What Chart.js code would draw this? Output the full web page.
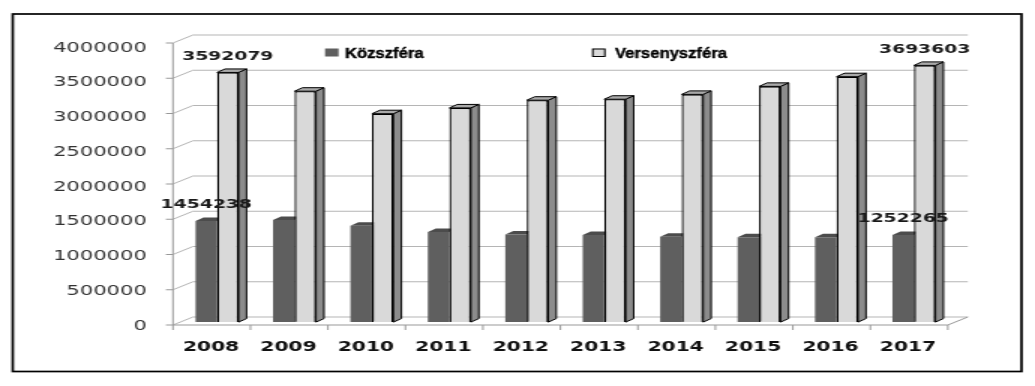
<!DOCTYPE html>
<html><head><meta charset="utf-8">
<script src="https://cdn.jsdelivr.net/npm/chart.js@4"></script>
<style>
html,body{margin:0;padding:0;background:#fff;overflow:hidden;}
#wrap{width:690px;height:386px;transform:scaleX(1.5);transform-origin:0 0;}
canvas{display:block;}
</style></head><body>
<div id="wrap"><canvas id="c" width="690" height="386"></canvas></div>
<script>
// ---- data ----
const years = ['2008','2009','2010','2011','2012','2013','2014','2015','2016','2017'];
const seriesNames = ['Közszféra', 'Versenyszféra'];
const kozszfera = [1454238, 1467700, 1386900, 1296700, 1261700, 1252300, 1229400, 1221300, 1222000, 1252265];
const versenyszfera = [3592079, 3322300, 2998300, 3081700, 3192900, 3206900, 3276400, 3391800, 3530900, 3693603];
const yTicks = [0, 500000, 1000000, 1500000, 2000000, 2500000, 3000000, 3500000, 4000000];
const labelledIdx = [0, 9];

// ---- style ----
const DARK = '#5f5f5f', LIGHT = '#d9d9d9';
const DEPTH_DX = 5.33, DEPTH_DY = -3.5;   // bar depth
const WALL_DX = 13.33, WALL_DY = -8;      // wall depth

const frame = {
  id: 'frame',
  beforeDraw(chart) {
    const ctx = chart.ctx;
    ctx.save();
    ctx.fillStyle = '#fff';
    ctx.fillRect(0, 0, chart.width, chart.height);
    ctx.strokeStyle = '#000';
    ctx.lineWidth = 1.7;
    ctx.strokeRect(8.5, 14, 672.5, 357.5);
    ctx.restore();
  }
};

const threeD = {
  id: 'threeD',
  beforeDatasetsDraw(chart) {
    const ctx = chart.ctx, ca = chart.chartArea, ys = chart.scales.y;
    const max = ys.max;
    const frontY = v => ys.getPixelForValue(v) + 2.9 - 4 * v / max;
    const fl = ca.left - 3.6, fr = ca.right - 3.2;
    ctx.save();
    ctx.lineWidth = 1;
    yTicks.forEach(v => {
      const y = frontY(v);
      ctx.strokeStyle = '#b5b5b5';
      ctx.beginPath();
      ctx.moveTo(fl, y);
      ctx.lineTo(fl + WALL_DX, y + WALL_DY);
      ctx.lineTo(fr + WALL_DX, y + WALL_DY);
      ctx.stroke();
      ctx.strokeStyle = '#999';
      ctx.beginPath();
      ctx.moveTo(fl - 4.7, y);
      ctx.lineTo(fl, y);
      ctx.stroke();
    });
    ctx.strokeStyle = '#999';
    ctx.beginPath();
    ctx.moveTo(fl, frontY(max));
    ctx.lineTo(fl, frontY(0));
    ctx.lineTo(fr, frontY(0));
    ctx.lineTo(fr + WALL_DX, frontY(0) + WALL_DY);
    ctx.stroke();
    const n = years.length;
    for (let i = 0; i <= n; i++) {
      const x = fl + i * (fr - fl) / n;
      ctx.beginPath();
      ctx.moveTo(x, frontY(0));
      ctx.lineTo(x, frontY(0) + 5);
      ctx.stroke();
    }
    chart.data.datasets.forEach((ds, di) => {
      const meta = chart.getDatasetMeta(di);
      const outlined = di === 1;
      meta.data.forEach(bar => {
        const p = bar.getProps(['x', 'y', 'base', 'width'], true);
        const l = p.x - p.width / 2, r = p.x + p.width / 2;
        ctx.lineWidth = 1;
        ctx.strokeStyle = '#000';
        ctx.fillStyle = outlined ? '#8c8c8c' : '#4f4f4f';
        ctx.beginPath();
        ctx.moveTo(r, p.y);
        ctx.lineTo(r + DEPTH_DX, p.y + DEPTH_DY);
        ctx.lineTo(r + DEPTH_DX, p.base + DEPTH_DY);
        ctx.lineTo(r, p.base);
        ctx.closePath();
        ctx.fill();
        if (outlined) ctx.stroke();
        ctx.fillStyle = outlined ? '#a9a9a9' : '#4c4c4c';
        ctx.beginPath();
        ctx.moveTo(l, p.y);
        ctx.lineTo(l + DEPTH_DX, p.y + DEPTH_DY);
        ctx.lineTo(r + DEPTH_DX, p.y + DEPTH_DY);
        ctx.lineTo(r, p.y);
        ctx.closePath();
        ctx.fill();
        if (outlined) ctx.stroke();
      });
    });
    ctx.restore();
  },
  afterDatasetsDraw(chart) {
    const ctx = chart.ctx;
    ctx.save();
    // value labels
    ctx.font = 'bold 12.5px "DejaVu Sans"';
    ctx.fillStyle = '#1a1a1a';
    ctx.textAlign = 'center';
    ctx.textBaseline = 'middle';
    chart.data.datasets.forEach((ds, di) => {
      const meta = chart.getDatasetMeta(di);
      labelledIdx.forEach(i => {
        const bar = meta.data[i];
        ctx.fillText(String(ds.data[i]), bar.x, bar.y - 16);
      });
    });
    // legend (condensed bold text)
    const legendX = [216.7, 394.7];
    const textX = [230, 410];
    chart.data.datasets.forEach((ds, di) => {
      ctx.fillStyle = ds.backgroundColor;
      ctx.fillRect(legendX[di], 48.5, 9, 8);
      if (di === 1) {
        ctx.strokeStyle = '#000';
        ctx.lineWidth = 1;
        ctx.strokeRect(legendX[di] + 0.5, 49, 8, 7.5);
      }
      ctx.save();
      ctx.translate(textX[di], 53.5);
      ctx.scale(0.74, 1);
      ctx.font = 'bold 15px "Liberation Sans", Arial, sans-serif';
      ctx.textAlign = 'left';
      ctx.textBaseline = 'middle';
      ctx.fillStyle = '#000';
      ctx.fillText(ds.label, 0, 0);
      ctx.lineWidth = 0.4;
      ctx.strokeStyle = '#000';
      ctx.strokeText(ds.label, 0, 0);
      ctx.restore();
    });
    ctx.restore();
  }
};

new Chart(document.getElementById('c'), {
  type: 'bar',
  data: {
    labels: years,
    datasets: [
      { label: seriesNames[0], data: kozszfera, backgroundColor: DARK, borderWidth: 0,
        categoryPercentage: 0.555, barPercentage: 1.0 },
      { label: seriesNames[1], data: versenyszfera, backgroundColor: LIGHT, borderColor: '#000', borderWidth: 1.3,
        categoryPercentage: 0.555, barPercentage: 1.0 }
    ]
  },
  options: {
    responsive: false,
    animation: false,
    events: [],
    layout: { padding: { left: 10, right: 54.9, top: 44.1, bottom: 33.9 } },
    plugins: { legend: { display: false }, tooltip: { enabled: false } },
    scales: {
      x: {
        grid: { display: false, drawTicks: false },
        border: { display: false },
        ticks: {
          font: { family: 'DejaVu Sans', size: 13.5, weight: 'bold' },
          color: '#111', padding: 17, labelOffset: -4,
          maxRotation: 0, autoSkip: false
        },
        afterFit(s) { s.height = 30; }
      },
      y: {
        min: 0, max: 4000000,
        grid: { display: false, drawTicks: false },
        border: { display: false },
        ticks: {
          font: { family: 'DejaVu Sans', size: 14 },
          color: '#333', padding: 21.1, labelOffset: 4,
          callback: v => String(v)
        },
        afterBuildTicks(s) { s.ticks = yTicks.map(v => ({ value: v })); },
        afterFit(s) { s.width = 108.9; }
      }
    }
  },
  plugins: [frame, threeD]
});
</script>
</body></html>
